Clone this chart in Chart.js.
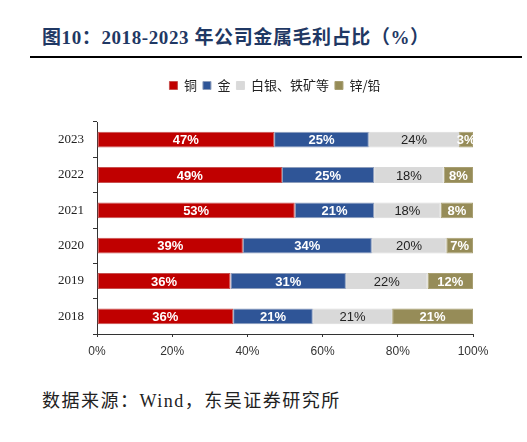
<!DOCTYPE html>
<html>
<head>
<meta charset="utf-8">
<script src="https://cdn.jsdelivr.net/npm/chart.js@4.4.1/dist/chart.umd.min.js"></script>
<style>
    html, body { margin: 0; padding: 0; background: #fff; }
    body { width: 527px; height: 442px; position: relative; overflow: hidden; }
    #title {
        position: absolute; left: 42px; top: 22px;
        font: bold 19px "Liberation Serif", "Noto Sans CJK SC", serif;
        color: #1F3864; white-space: nowrap; letter-spacing: 0.6px;
    }
    #rule { position: absolute; left: 30px; top: 56px; width: 492px; height: 2px; background: #000; }
    #chartBox { position: absolute; left: 0; top: 62px; width: 527px; height: 300px; }
    #source {
        position: absolute; left: 42px; top: 386px;
        font: 18px "Liberation Serif", "Noto Sans CJK SC", serif;
        color: #222; white-space: nowrap; letter-spacing: 1.5px;
    }
</style>
</head>
<body>
<div id="title">图10：2018-2023 年公司金属毛利占比（%）</div>
<div id="rule"></div>
<div id="chartBox"><canvas id="metalChart"></canvas></div>
<div id="source">数据来源：Wind，东吴证券研究所</div>

<script>
// ========================================================================
// 데이터
// ========================================================================
const years = ['2023', '2022', '2021', '2020', '2019', '2018'];
const seriesNames = ['铜', '金', '白银、铁矿等', '锌/铅'];

// 막대 길이 (%)
const copperShare = [47.1, 49.2, 52.6, 38.8, 35.5, 36.2];
const goldShare   = [25.2, 24.5, 21.1, 34.3, 30.7, 21.2];
const silverShare = [24.0, 18.5, 17.7, 19.8, 21.7, 21.1];
const zincShare   = [3.7, 7.8, 8.6, 7.1, 12.1, 21.5];

// 막대 위에 표시된 숫자
const copperLabels = [47, 49, 53, 39, 36, 36];
const goldLabels   = [25, 25, 21, 34, 31, 21];
const silverLabels = [24, 18, 18, 20, 22, 21];
const zincLabels   = [3, 8, 8, 7, 12, 21];

const xTicks = [0, 20, 40, 60, 80, 100];

const colors = ['#C00000', '#2F5597', '#D9D9D9', '#968C58'];
const borderColors = ['#C8504F', '#8D9DBB', '#DADADA', '#A89F72'];
const labelColors = ['#FFFFFF', '#FFFFFF', '#222222', '#FFFFFF'];

const shares = [copperShare, goldShare, silverShare, zincShare];
const shownLabels = [copperLabels, goldLabels, silverLabels, zincLabels];

// ========================================================================
// 막대 안 라벨 플러그인
// ========================================================================
const barLabelPlugin = {
    id: 'barLabels',
    afterDatasetsDraw(chart) {
        const ctx = chart.ctx;
        ctx.save();
        ctx.textAlign = 'center';
        ctx.textBaseline = 'middle';
        chart.data.datasets.forEach((ds, di) => {
            const meta = chart.getDatasetMeta(di);
            meta.data.forEach((bar, i) => {
                const cx = (bar.x + bar.base) / 2;
                ctx.fillStyle = labelColors[di];
                ctx.font = (di === 2 ? '' : 'bold ') + '13px "Liberation Sans", Arial, sans-serif';
                ctx.fillText(shownLabels[di][i] + '%', cx, bar.y + 1);
            });
        });
        ctx.restore();
    }
};

// 범례 아래 여백 늘리고 조금 왼쪽으로
const legendSpacer = {
    id: 'legendSpacer',
    afterInit(chart) {
        const legend = chart.legend;
        if (!legend) return;
        const origFit = legend.fit;
        legend.fit = function () {
            origFit.call(this);
            this.height += 20;
        };
    },
    afterLayout(chart) {
        if (!chart.legend) return;
        chart.legend.left -= 10;
        chart.legend.right -= 10;
    }
};

const ctx = document.getElementById('metalChart');
new Chart(ctx, {
    type: 'bar',
    data: {
        labels: years,
        datasets: seriesNames.map((name, i) => ({
            label: name,
            data: shares[i],
            backgroundColor: colors[i],
            borderColor: borderColors[i],
            borderWidth: 1,
            borderSkipped: false,
            categoryPercentage: 0.9,
            barPercentage: 0.5
        }))
    },
    options: {
        indexAxis: 'y',
        responsive: true,
        maintainAspectRatio: false,
        animation: false,
        layout: { padding: { left: 0, right: 54, top: 11, bottom: 0 } },
        plugins: {
            legend: {
                display: true,
                position: 'top',
                fullSize: false,
                labels: {
                    boxWidth: 8,
                    boxHeight: 8,
                    padding: 6,
                    color: '#222',
                    font: { size: 13, family: '"Noto Sans CJK SC", sans-serif' }
                }
            },
            tooltip: { enabled: false }
        },
        scales: {
            x: {
                stacked: true,
                min: 0,
                max: 100,
                afterBuildTicks(scale) {
                    scale.ticks = xTicks.map(v => ({ value: v }));
                },
                afterFit(scale) { scale.height = 28; },
                grid: {
                    display: true,
                    drawOnChartArea: false,
                    drawTicks: true,
                    tickLength: 3,
                    color: '#333'
                },
                border: { display: true, color: '#333', width: 1 },
                ticks: {
                    padding: 7,
                    color: '#333',
                    font: { size: 12, family: '"Liberation Sans", Arial, sans-serif' },
                    callback: v => v + '%'
                }
            },
            y: {
                stacked: true,
                afterFit(scale) { scale.width = 97; },
                grid: {
                    display: true,
                    offset: true,
                    drawOnChartArea: false,
                    drawTicks: true,
                    tickLength: 4,
                    color: '#333'
                },
                border: { display: true, color: '#333', width: 1 },
                ticks: {
                    padding: 9,
                    color: '#222',
                    font: { size: 13, family: '"Liberation Serif", serif' }
                }
            }
        }
    },
    plugins: [barLabelPlugin, legendSpacer]
});
</script>
</body>
</html>
